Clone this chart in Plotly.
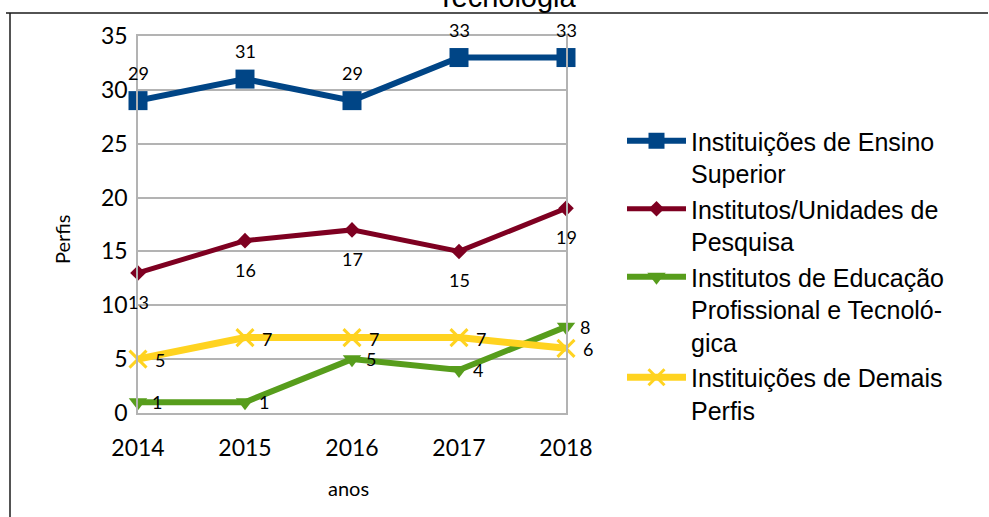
import plotly.graph_objects as go

years = [2014, 2015, 2016, 2017, 2018]
ies = [29, 31, 29, 33, 33]
iup = [13, 16, 17, 15, 19]
iept = [1, 1, 5, 4, 8]
demais = [5, 7, 7, 7, 6]

names = [
    "Instituições de Ensino<br>Superior",
    "Institutos/Unidades de<br>Pesquisa",
    "Institutos de Educação<br>Profissional e Tecnoló-<br>gica",
    "Instituições de Demais<br>Perfis",
]
colors = ["#004586", "#7e0021", "#579d1c", "#ffd320"]
series = [ies, iup, iept, demais]
symbols = ["square", "diamond", "triangle-down", "x-thin-open"]
msizes = [19, 12, 16, 17]
lwidths = [6, 5, 6, 7]
# label offsets (px) per series
label_shift = [(0, 28), (0, -29), (19, 0), (22, -1)]

L, R, T, B = 138, 566, 36, 413
W, H = 989, 517
pw, ph = R - L, B - T

def px_x(x):
    return (x - L) / pw

def px_y(y):
    return (B - y) / ph

fig = go.Figure()
for vals, nm, c, s, ms, lw in zip(series, names, colors, symbols, msizes, lwidths):
    marker = dict(symbol=s, size=ms, color=c)
    if s == "x-thin-open":
        marker["line"] = dict(color=c, width=3)
    fig.add_trace(go.Scatter(
        x=years, y=vals, name=nm, mode="lines+markers",
        line=dict(color=c, width=lw), marker=marker,
        cliponaxis=False,
    ))

annotations = []
for vals, (dx, dy) in zip(series, label_shift):
    for xv, yv in zip(years, vals):
        annotations.append(dict(
            x=xv, y=yv, xref="x", yref="y", text=str(yv), showarrow=False,
            xshift=dx, yshift=dy, xanchor="center", yanchor="middle",
            font=dict(family="Lato", size=18, color="#000000"),
        ))

annotations += [
    dict(text="Perfis", x=px_x(62), y=px_y(240), xref="paper", yref="paper",
         showarrow=False, textangle=-90, xanchor="center", yanchor="middle",
         font=dict(family="Lato", size=20, color="#000000")),
    dict(text="anos", x=px_x(348), y=px_y(488), xref="paper", yref="paper",
         showarrow=False, xanchor="center", yanchor="middle",
         font=dict(family="Lato", size=20, color="#000000")),
    dict(text="Tecnologia", x=px_x(507), y=px_y(-3), xref="paper", yref="paper",
         showarrow=False, xanchor="center", yanchor="middle",
         font=dict(family="Liberation Sans", size=29, color="#000000")),
]

shapes = [
    dict(type="line", xref="paper", yref="paper",
         x0=px_x(6), x1=px_x(988), y0=px_y(13), y1=px_y(13),
         line=dict(color="#1a1a1a", width=1.5)),
    dict(type="line", xref="paper", yref="paper",
         x0=px_x(10), x1=px_x(10), y0=px_y(13), y1=px_y(520),
         line=dict(color="#1a1a1a", width=1.5)),
]

fig.update_layout(
    width=W, height=H,
    margin=dict(l=L, r=W - R, t=T, b=H - B, pad=0, autoexpand=False),
    paper_bgcolor="white", plot_bgcolor="white",
    showlegend=True,
    legend=dict(
        x=px_x(622), y=px_y(118), xanchor="left", yanchor="top",
        font=dict(family="Liberation Sans", size=25, color="#000000"),
        valign="top", bgcolor="rgba(0,0,0,0)", tracegroupgap=0,
        itemwidth=59,
    ),
    annotations=annotations,
    shapes=shapes,
    xaxis=dict(
        range=[2014, 2018], tickmode="array", tickvals=years,
        ticktext=[str(y) for y in years],
        showgrid=False, zeroline=False,
        showline=True, linecolor="#b3b3b3", linewidth=1.5, mirror=True,
        ticks="", ticklabelstandoff=14,
        tickfont=dict(family="Lato", size=23, color="#000000"),
    ),
    yaxis=dict(
        range=[0, 35], tickmode="array", tickvals=[0, 5, 10, 15, 20, 25, 30, 35],
        showgrid=True, gridcolor="#b3b3b3", gridwidth=1.5, zeroline=False,
        showline=True, linecolor="#b3b3b3", linewidth=1.5, mirror=True,
        ticks="", ticklabelstandoff=4,
        tickfont=dict(family="Lato", size=23, color="#000000"),
    ),
)

fig.write_html(
    "out.html",
    config={"displayModeBar": False},
    post_script="document.body.style.margin='0';document.body.style.overflow='hidden';",
)
